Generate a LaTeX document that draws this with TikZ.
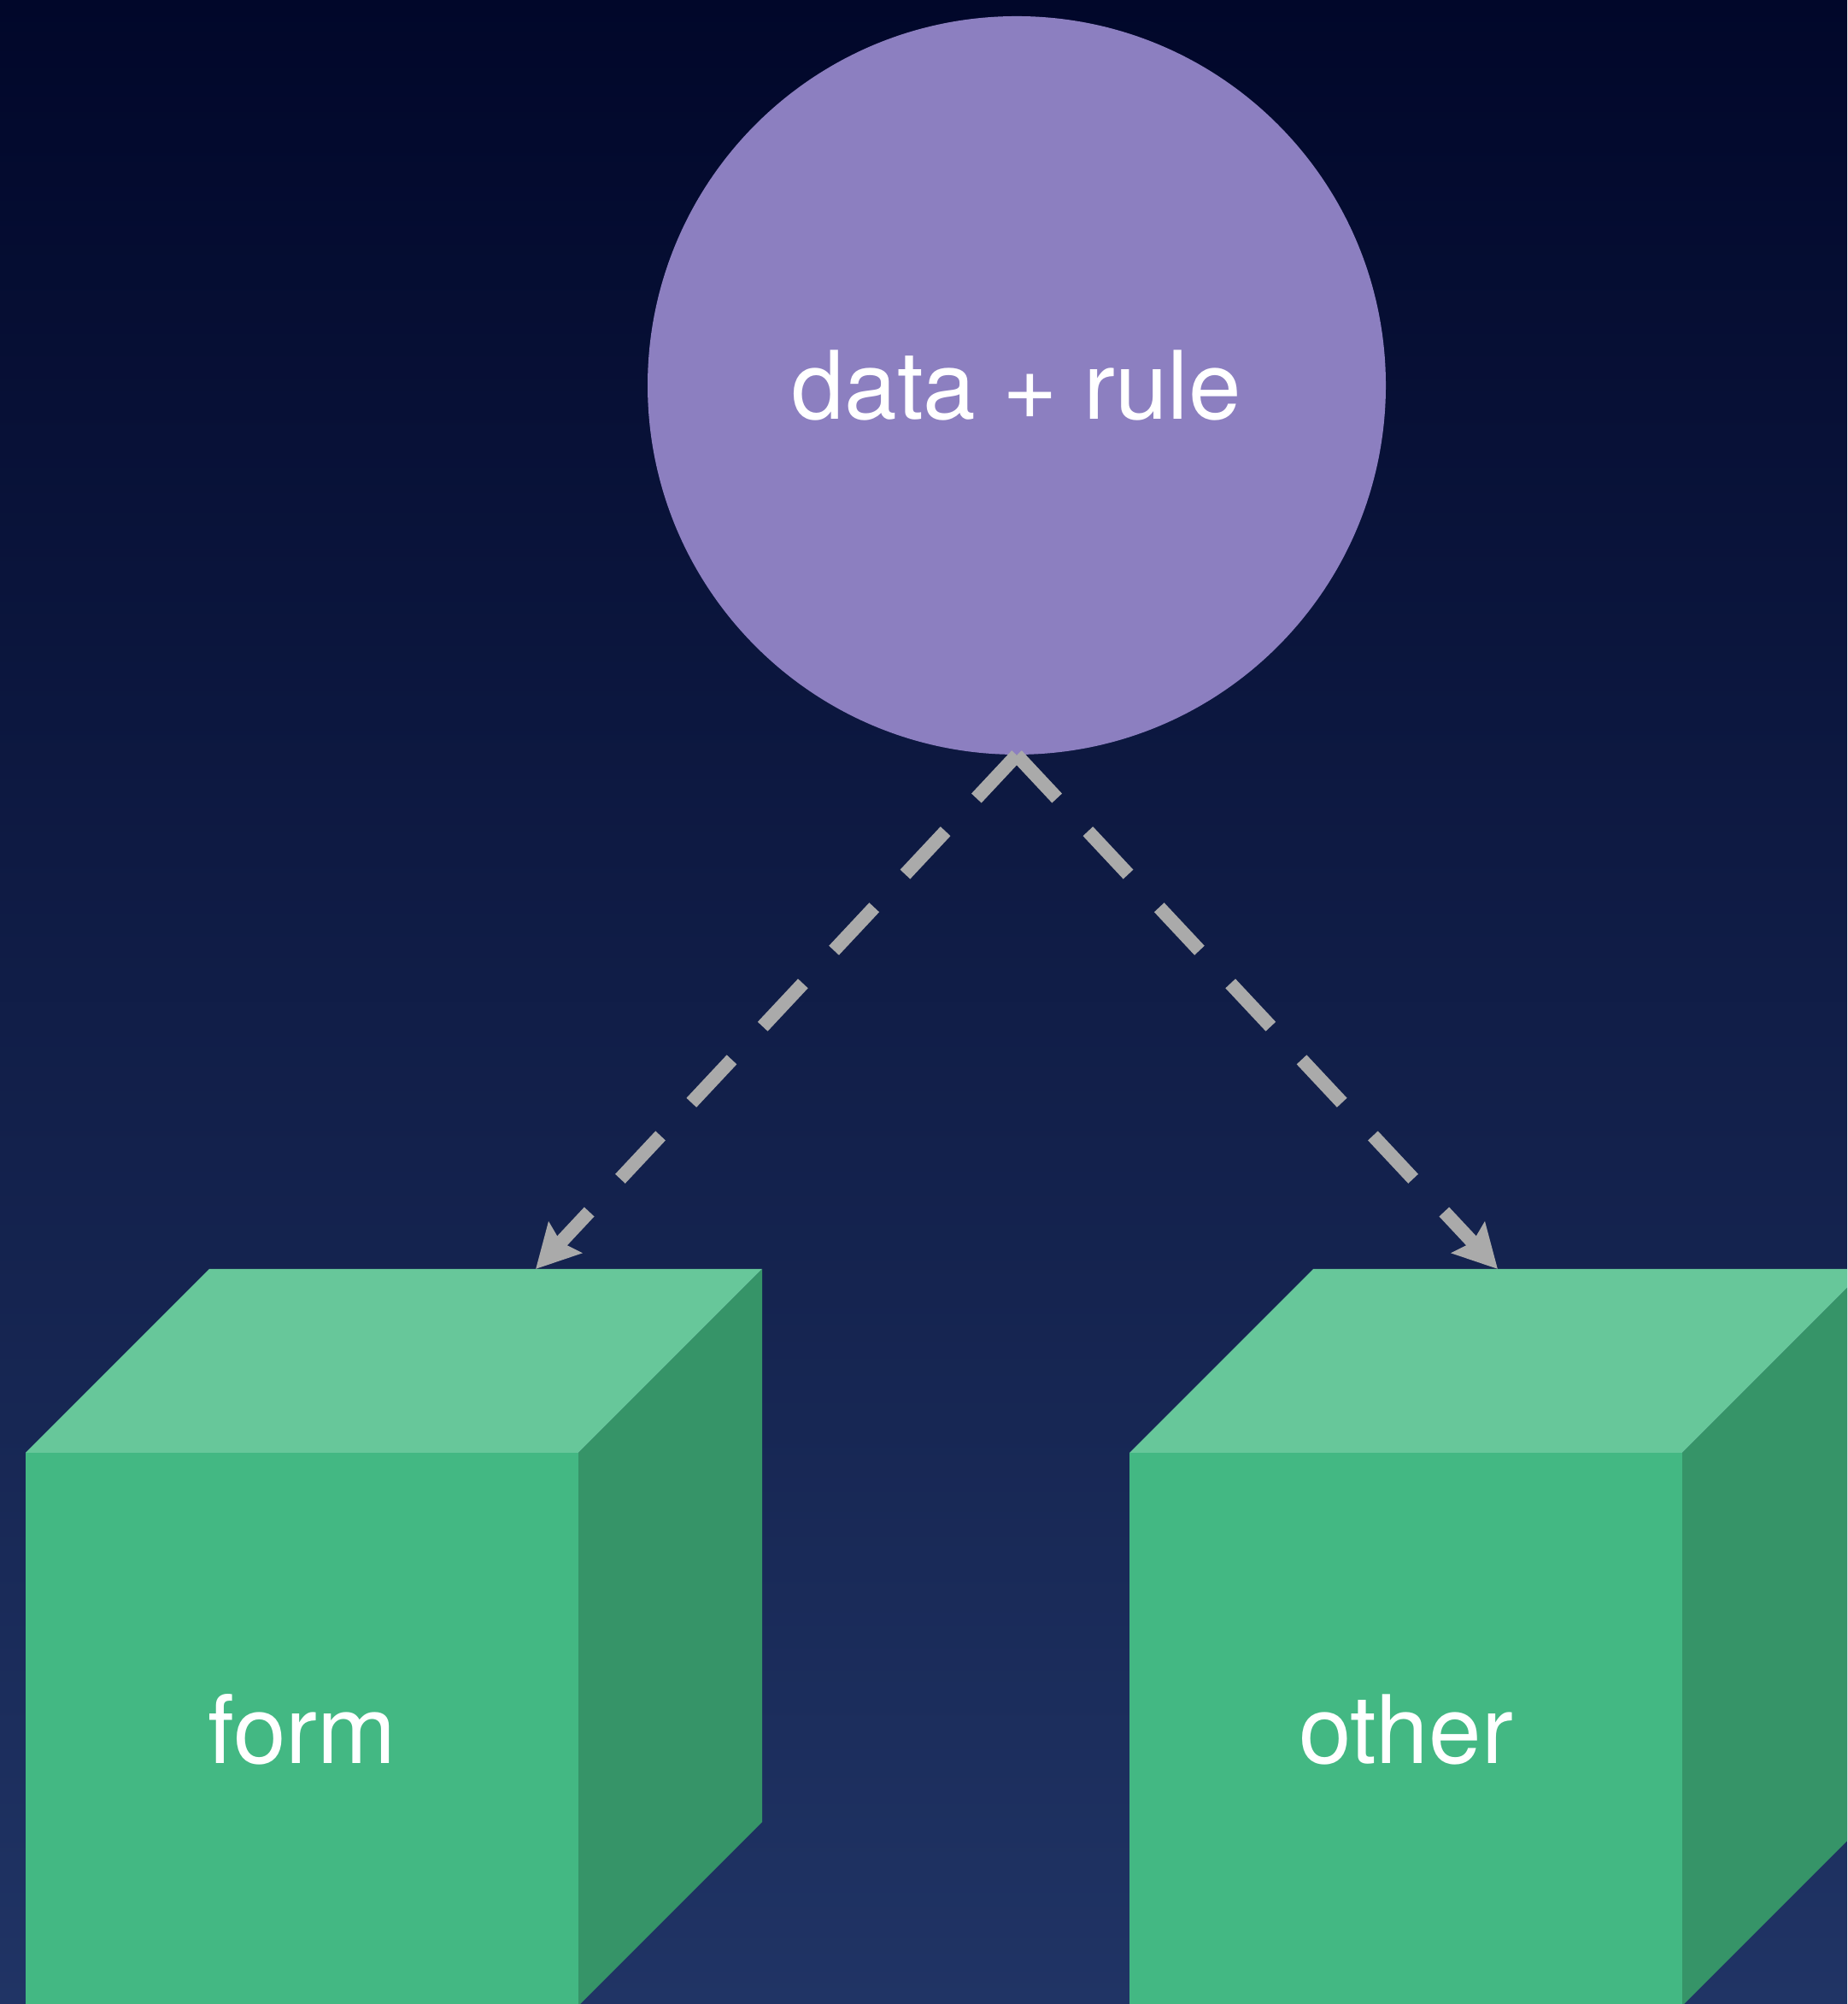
\documentclass[tikz,border=0pt]{standalone}
\usepackage{fontspec}
\setmainfont{TeX Gyre Heros}
\usetikzlibrary{arrows.meta}
\definecolor{bgtop}{RGB}{1,7,42}
\definecolor{bgbot}{RGB}{32,52,101}
\definecolor{rulefill}{RGB}{140,127,192}
\definecolor{cubefront}{RGB}{67,184,131}
\definecolor{cubetop}{RGB}{103,199,154}
\definecolor{cubeside}{RGB}{54,148,104}
\definecolor{flowgray}{RGB}{170,170,170}
\begin{document}
\begin{tikzpicture}[
  flow/.style={draw=flowgray,line width=0.16cm,dash pattern=on 0.69cm off 0.53cm,
    -{Stealth[length=0.5cm,width=0.52cm,inset=0.07cm]}},
  lbl/.style={text=white,font=\fontsize{31.5}{38}\selectfont}]
\useasboundingbox(0,0)rectangle(21.62,23.45);
\clip(0,0)rectangle(21.62,23.45);
\shade[top color=bgtop,bottom color=bgbot](0,0)rectangle(21.62,23.45);
% source circle
\node[circle,fill=rulefill,minimum size=8.64cm,inner sep=0pt,lbl](rule)at(11.90,18.94){data + rule};
% the two cubes
\foreach \x/\n in {0.30/form,13.22/other}{
  \fill[cubefront](\x,-0.5)rectangle(\x+6.47,6.45);
  \fill[cubetop](\x,6.45)--++(2.15,2.15)--++(6.47,0)--++(-2.15,-2.15)--cycle;
  \fill[cubeside](\x+6.47,6.45)--++(2.15,2.15)--++(0,-6.47)--++(-2.15,-2.15)--cycle;
  \node[lbl](\n)at(\x+3.235,3.215){\n};
}
\coordinate(formtop)at(6.27,8.60);\coordinate(othertop)at(17.53,8.60);
\draw[flow](rule.south)--(formtop);
\draw[flow](rule.south)--(othertop);
\end{tikzpicture}
\end{document}
